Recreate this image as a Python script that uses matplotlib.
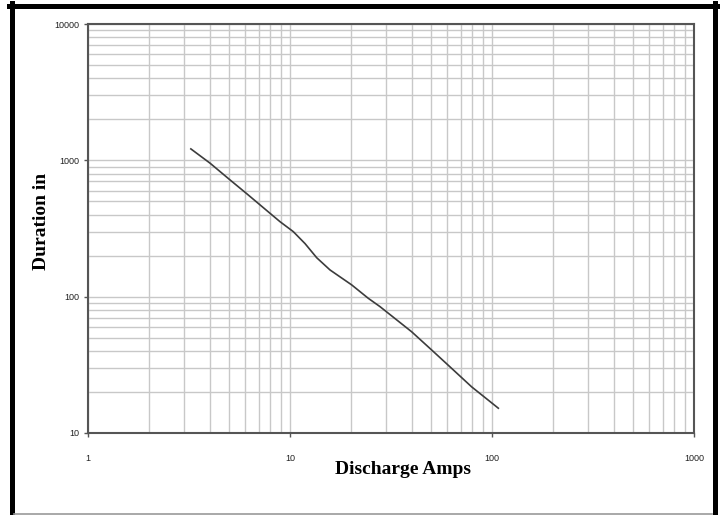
import matplotlib
matplotlib.use("Agg")
import matplotlib.pyplot as plt
from matplotlib.lines import Line2D
from matplotlib.ticker import LogLocator, FixedLocator, NullFormatter

amps = [3.23, 4.02, 5.05, 6.1, 7.96, 8.92, 10.38, 11.87, 13.56, 15.78, 20.2, 24.4,
        27.9, 40.0, 50.3, 61.9, 79.3, 107.5]
duration = [1213, 953, 718, 570, 409, 355, 300, 245, 193, 157, 122, 97.3,
            84.5, 55.3, 40.6, 30.6, 21.8, 15.2]

x_ticks = [1, 10, 100, 1000]
x_tick_labels = ["1", "10", "100", "1000"]
y_ticks = [10, 100, 1000, 10000]
y_tick_labels = ["10", "100", "1000", "10000"]

fig = plt.figure(figsize=(7.2, 5.15), dpi=100)
ax = fig.add_axes([88/720, (515-433)/515, 606/720, 409/515])

ax.set_xscale("log")
ax.set_yscale("log")
ax.set_xlim(1, 1000)
ax.set_ylim(10, 10000)

ax.plot(amps, duration, color="#3c3c3c", linewidth=1.2, solid_joinstyle="round")

ax.xaxis.set_major_locator(FixedLocator(x_ticks))
ax.yaxis.set_major_locator(FixedLocator(y_ticks))
ax.set_xticklabels(x_tick_labels)
ax.set_yticklabels(y_tick_labels)
ax.xaxis.set_minor_locator(LogLocator(base=10, subs=range(2, 10)))
ax.yaxis.set_minor_locator(LogLocator(base=10, subs=range(2, 10)))
ax.xaxis.set_minor_formatter(NullFormatter())
ax.yaxis.set_minor_formatter(NullFormatter())

ax.grid(True, which="both", color="#c8c8c8", linewidth=1.0)
ax.set_axisbelow(True)

for s in ax.spines.values():
    s.set_color("#555555")
    s.set_linewidth(1.5)

ax.tick_params(axis="both", which="minor", length=0)
ax.tick_params(axis="x", which="major", direction="out", length=3, width=1, color="#555555",
               pad=12, labelsize=6.5, labelcolor="#222222")
ax.tick_params(axis="y", which="major", direction="out", length=3, width=1, color="#555555",
               pad=3, labelsize=6.5, labelcolor="#222222")
for t in ax.get_xticklabels() + ax.get_yticklabels():
    t.set_family("Liberation Sans")

fig.text(403/720, 1 - 470/515, "Discharge Amps", ha="center", va="center",
         family="Liberation Serif", fontweight="bold", fontsize=14)
fig.text(42/720, 1 - 221/515, "Duration in", ha="center", va="center", rotation=90,
         family="Liberation Serif", fontweight="bold", fontsize=14)

# frame around the figure
lw_thick = 5 * 72 / 100
fig.add_artist(Line2D([11.5/720, 11.5/720], [1 - 3/515, 1 - 515/515], transform=fig.transFigure,
                      color="black", linewidth=lw_thick))
fig.add_artist(Line2D([9/720, 718.5/720], [1 - 5.5/515, 1 - 5.5/515], transform=fig.transFigure,
                      color="black", linewidth=lw_thick))
fig.add_artist(Line2D([715/720, 715/720], [1 - 3/515, 1 - 515/515], transform=fig.transFigure,
                      color="black", linewidth=lw_thick))
fig.add_artist(Line2D([14/720, 712/720], [1 - 513.5/515, 1 - 513.5/515], transform=fig.transFigure,
                      color="#999999", linewidth=1.2))

fig.savefig("out.png", dpi=100)
